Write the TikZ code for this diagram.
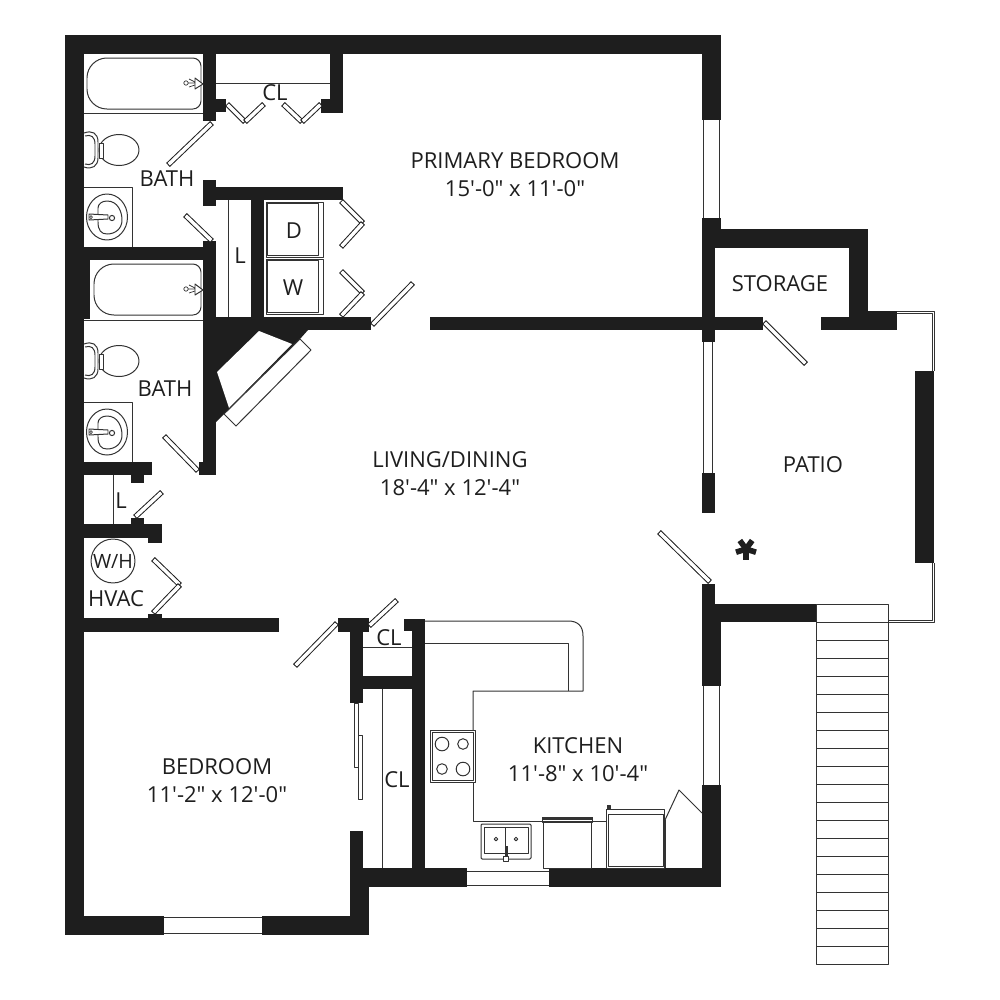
\documentclass[tikz,border=0pt]{standalone}
\usepackage{fontspec}
\newfontfamily\planfont{Open Sans}
\definecolor{ink}{HTML}{1E1E1E}
\definecolor{rule}{HTML}{333333}
\tikzset{
  x=0.3mm,y=-0.3mm,
  wall/.style={fill=ink,draw=none},
  ln/.style={draw=rule,line width=0.85pt,line join=round},
  fine/.style={draw=rule,line width=0.6pt,line join=round},
  label/.style={font=\planfont\fontsize{18.8}{24}\selectfont,text=ink,align=center,inner sep=0pt},
}
% door leaf: closed thin rectangle drawn as dark strip with a white core
\newcommand\leaf[1]{\draw[ink,line width=4.6pt] #1; \draw[white,line width=2.9pt,shorten >=0.9pt,shorten <=0.9pt] #1;}
\newcommand\tubfix[2]{% left x, top y
  \draw[ln] (150,#2) {[rounded corners=7pt] -- (201,#2) -- (201,#2+51)} {[rounded corners=17pt] -- (#1,#2+51) -- (#1,#2)} -- cycle;
  \draw[ln,fill=white] (195,#2+20) -- (203,#2+26) -- (195,#2+31) -- cycle;
  \draw[fine] (186,#2+25) circle (2.2);
  \draw[fine] (188,#2+25) -- (195,#2+25) (189,#2+21) -- (195,#2+24) (189,#2+29) -- (195,#2+27);
}
\newcommand\toiletfix[1]{% centre y
  \draw[ln] (119,#1) ellipse (20 and 15.5);
  \draw[ln,fill=white] (99,#1-7) rectangle (103,#1+8);
  \draw[ln,fill=white] (84,#1-17) .. controls (92,#1-20) and (98,#1-17) .. (98,#1-8) -- (98,#1+8) .. controls (98,#1+16) and (92,#1+20) .. (84,#1+17);
  \draw[ln] (85,#1-14) .. controls (91,#1-16) and (95,#1-13) .. (95,#1-6) -- (95,#1+6) .. controls (95,#1+13) and (91,#1+16) .. (85,#1+14);
}
\newcommand\sinkfix[1]{% top y of cabinet
  \draw[ln] (84,#1) -- (132,#1) -- (132,#1+60);
  \draw[ln] (107,#1+30) ellipse (20.5 and 23);
  \draw[ln] (107,#1+14) .. controls (118,#1+14) and (122,#1+25) .. (122,#1+33) .. controls (122,#1+42) and (115,#1+47) .. (107,#1+47) .. controls (101,#1+47) and (98,#1+43) .. (98,#1+35) -- (98,#1+21) .. controls (98,#1+17) and (102,#1+14) .. (107,#1+14);
  \draw[ln,fill=white] (89,#1+27) -- (108,#1+28) -- (108,#1+32) -- (89,#1+33) -- cycle;
  \draw[fine] (91,#1+30) circle (1.5);
  \draw[ln,fill=white] (112,#1+31) circle (2.6);
}
\begin{document}
\begin{tikzpicture}
\useasboundingbox (0,0) rectangle (1000,1000);
\fill[white] (0,0) rectangle (1000,1000);

% ---------- outer walls
\fill[wall] (65,35) rectangle (721,54);
\fill[wall] (65,35) rectangle (84,935);
\fill[wall] (702,35) rectangle (721,120);
\fill[wall] (65,916) rectangle (164,935);
\fill[wall] (262,916) rectangle (369,935);
\fill[wall] (350,831) rectangle (363,916);
\fill[wall] (350,868) rectangle (369,935);
\fill[wall] (350,868) rectangle (467,887);
\fill[wall] (549,868) rectangle (721,887);
\fill[wall] (702,785) rectangle (721,887);
\fill[wall] (702,584) rectangle (715,610);
\fill[wall] (702,622) rectangle (721,686);
\fill[wall] (702,604) rectangle (816,622);
% right upper and storage
\fill[wall] (702,218) rectangle (721,248);
\fill[wall] (702,229) rectangle (868,248);
\fill[wall] (702,229) rectangle (715,342);
\fill[wall] (849,229) rectangle (868,330);
\fill[wall] (849,311) rectangle (897,330);
\fill[wall] (821,317) rectangle (897,330);
\fill[wall] (430,317) rectangle (763,330);
\fill[wall] (702,473) rectangle (715,513);
\fill[wall] (915,371) rectangle (934,563);

% ---------- upper-left inner walls
\fill[wall] (203,54) rectangle (216,121);
\fill[wall] (216,99) rectangle (226,112);
\fill[wall] (330,54) rectangle (343,113);
\fill[wall] (321,99) rectangle (330,113);
\fill[wall] (203,180) rectangle (216,206);
\fill[wall] (216,187) rectangle (343,200);
\fill[wall] (84,247) rectangle (216,260);
\fill[wall] (84,247) rectangle (90,319);
\fill[wall] (203,241) rectangle (216,475);
\fill[wall] (199,462) rectangle (216,475);
\fill[wall] (251,200) rectangle (264,317);
\fill[wall] (203,317) rectangle (371,330);
% fireplace
\fill[wall] (216,330) -- (308,330) -- (300,339) -- (224,414) -- (216,422) -- cycle;
\fill[white] (217,372) -- (259,331) -- (292,344) -- (229,408) -- cycle;
\draw[ln,fill=white] (300,339) -- (311,350) -- (236,426) -- (224,414) -- cycle;

% ---------- small closets left
\fill[wall] (84,462) rectangle (152,475);
\fill[wall] (131,475) rectangle (144,483);
\fill[wall] (84,524) rectangle (162,538);
\fill[wall] (131,518) rectangle (144,524);
\fill[wall] (148,538) rectangle (162,543);
\fill[wall] (84,618) rectangle (279,632);
\fill[wall] (148,614) rectangle (162,618);

% ---------- centre closets
\fill[wall] (338,618) rectangle (369,632);
\fill[wall] (350,632) rectangle (363,703);
\fill[wall] (350,676) rectangle (412,689);
\fill[wall] (404,619) rectangle (425,631);
\fill[wall] (412,619) rectangle (425,868);

% ---------- windows
\draw[ln] (703,120) -- (703,218) (719,120) -- (719,218);
\draw[ln] (703,686) -- (703,785) (719,686) -- (719,785);
\draw[ln] (703,342) -- (703,473) (712,342) -- (712,473);
\draw[ln] (164,917.5) -- (262,917.5) (164,933) -- (262,933);
\draw[ln] (467,871) -- (549,871) (467,885) -- (549,885);

% ---------- patio rail
\draw[fine] (897,311.5) -- (934,311.5) -- (934,371);
\draw[fine] (897,313.5) -- (932,313.5) -- (932,371);
\draw[fine] (934,563) -- (934,622) -- (888,622);
\draw[fine] (932,563) -- (932,620) -- (888,620);

% ---------- doors
\leaf{(212,123) -- (168,165)}
\leaf{(212,241) -- (185,215)}
\leaf{(198,471) -- (164,436)}
\leaf{(135,517) -- (162,492)}
\leaf{(372,325) -- (413,283)}
\leaf{(764,322) -- (806,364)}
\leaf{(710,582) -- (659,532)}
\leaf{(337,623) -- (295,666)}
\leaf{(369,626) -- (397,600)}
% bifolds
\leaf{(227,104) -- (245,122)} \leaf{(245,122) -- (264,104)}
\leaf{(283,104) -- (302,122)} \leaf{(302,122) -- (321,104)}
\leaf{(341,201) -- (363,223)} \leaf{(363,223) -- (341,247)}
\leaf{(341,271) -- (363,293)} \leaf{(363,293) -- (341,316)}
\leaf{(153,559) -- (180,585)} \leaf{(180,585) -- (153,613)}
% sliding doors
\draw[fine,fill=white] (354,703) rectangle (358,767);
\draw[fine,fill=white] (358,735) rectangle (362,799);

% ---------- bath fixtures
\tubfix{87}{58}
\draw[ln] (84,113) -- (203,113);
\tubfix{94}{264}
\draw[ln] (84,320) -- (203,320);
\toiletfix{150}
\toiletfix{361}
\sinkfix{187}
\sinkfix{402}

% ---------- closet lines
\draw[ln] (216,83) -- (330,83);
\draw[ln] (228,200) -- (228,317);
\draw[ln] (113,475) -- (113,524);
\draw[ln] (363,647) -- (412,647);
\draw[ln] (382,689) -- (382,868);

% ---------- washer and dryer
\draw[ln] (266,202) rectangle (323,257);
\draw[ln] (267.5,203.5) rectangle (318,255.5);
\draw[ln] (266,259) rectangle (323,314);
\draw[ln] (267.5,260.5) rectangle (318,312.5);

% ---------- water heater
\node[draw=rule,line width=0.85pt,circle,minimum size=37.5pt,inner sep=0pt] (wh) at (113,561) {};

% ---------- kitchen counter
\draw[ln] (425,621) -- (568,621) .. controls (578,621) and (583,626) .. (583,636) -- (583,691) -- (473,691) -- (473,730);
\draw[ln] (425,643) -- (568,643) -- (568,691);
\draw[ln] (473,782) -- (473,821) -- (665,821);
\draw[ln] (665,820) -- (679,790) -- (702,813);
\draw[ln] (665,820) -- (665,868);
% stove
\draw[ln] (430,730) rectangle (475,782);
\draw[ln] (432,732) rectangle (473,780);
\draw[ln] (442,744) circle (6.8);
\draw[ln] (463,744) circle (5.3);
\draw[ln] (442,769) circle (5.3);
\draw[ln] (463,769) circle (6.8);
% sink
\draw[ln,rounded corners=1pt] (481,824) rectangle (531,859);
\draw[ln] (484,827) rectangle (505.5,853);
\draw[ln] (505.5,827) rectangle (528,853);
\draw[ln] (496,839) circle (1.8);
\draw[ln] (516,839) circle (1.8);
\fill[rule] (504.5,846) rectangle (507.5,856);
\draw[ln,fill=white] (503.5,856) rectangle (508,861);
% dishwasher
\draw[ln,fill=white] (543,821) rectangle (591,868);
\draw[fill=rule,draw=rule,line width=0.6pt] (542,817) rectangle (592,819);
\draw[ln] (542,819) rectangle (592,822);
% refrigerator
\draw[ln,fill=white] (606,809) rectangle (664,868);
\draw[ln] (608,814) rectangle (663,866.5);
\draw[ln,fill=rule] (607,805) rectangle (610,809);

% ---------- stairs
\draw[ln,fill=white] (816,604) rectangle (888,964);
\foreach \k in {1,...,19} \draw[ln] (816,604+18*\k) -- (888,604+18*\k);

% ---------- north-star mark
\coordinate (star) at (746,549);
\foreach \a in {126,54,198,342,270}
  \draw[ink,line width=4.8pt] (star) -- ++(\a:10.5 and -10.5);

% ---------- labels
\node[label] (primary) at (515,175) {PRIMARY BEDROOM\\15'-0" x 11'-0"};
\node[label] (living) at (450,474) {LIVING/DINING\\18'-4" x 12'-4"};
\node[label] (bedroom) at (217,781) {BEDROOM\\11'-2" x 12'-0"};
\node[label] (kitchen) at (578,760) {KITCHEN\\11'-8" x 10'-4"};
\node[label] (storage) at (780,284) {STORAGE};
\node[label] (patio) at (813,465) {PATIO};
\node[label] (bath1) at (167,179) {BATH};
\node[label] (bath2) at (165,389) {BATH};
\node[label] (hvac) at (116,599) {HVAC};
\node[label] (cl1) at (275,93) {CL};
\node[label] (cl2) at (389,638) {CL};
\node[label] (cl3) at (397,780) {CL};
\node[label] (l1) at (240,256) {L};
\node[label] (l2) at (121,501) {L};
\node[label] (d) at (294,231) {D};
\node[label] (w) at (293,288) {W};
\node[label,font=\planfont\fontsize{16.8}{20}\selectfont] (whl) at (wh) {W/H};
\end{tikzpicture}
\end{document}
